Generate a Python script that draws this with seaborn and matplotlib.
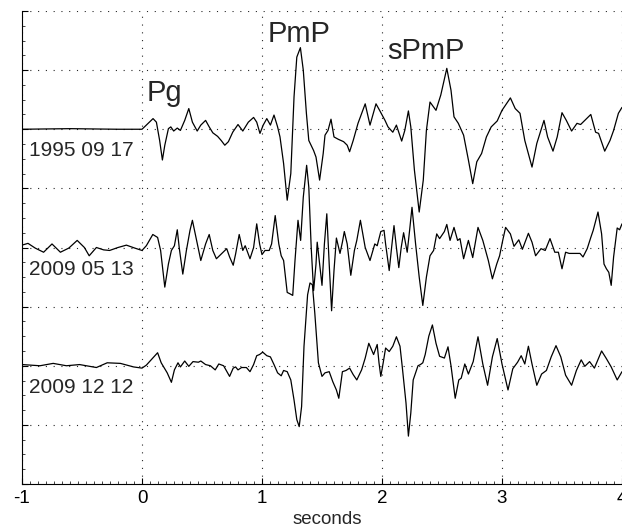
import pandas as pd
import matplotlib
matplotlib.use("Agg")
import matplotlib.pyplot as plt
from matplotlib.ticker import MultipleLocator
import seaborn as sns

# --- traces (time in s, amplitude in grid units) ---
t_1995 = [-1.0, -0.6, -0.2, 0.0, 0.036, 0.092, 0.12, 0.147, 0.17, 0.19, 0.22, 0.24, 0.264, 0.294,
          0.32, 0.356, 0.39, 0.42, 0.46, 0.49, 0.53, 0.56, 0.59, 0.63, 0.66, 0.69, 0.72, 0.756,
          0.80, 0.84, 0.886, 0.93, 0.956, 0.983, 1.01, 1.04, 1.07, 1.10, 1.13, 1.15, 1.18, 1.21,
          1.24, 1.267, 1.29, 1.32, 1.344, 1.37, 1.39, 1.43, 1.45, 1.48, 1.51, 1.525, 1.55, 1.575,
          1.60, 1.636, 1.68, 1.71, 1.73, 1.76, 1.80, 1.86, 1.90, 1.95, 1.98, 2.025, 2.05, 2.09,
          2.12, 2.164, 2.19, 2.22, 2.24, 2.27, 2.31, 2.344, 2.37, 2.40, 2.45, 2.49, 2.54, 2.575,
          2.60, 2.636, 2.68, 2.72, 2.756, 2.79, 2.83, 2.87, 2.91, 2.96, 3.0, 3.03, 3.07, 3.11,
          3.15, 3.19, 3.25, 3.29, 3.35, 3.38, 3.425, 3.46, 3.50, 3.536, 3.58, 3.625, 3.655, 3.69,
          3.74, 3.78, 3.805, 3.856, 3.90, 3.93, 3.97, 4.0]
a_1995 = [0.0, 0.01, 0.0, 0.0, 0.07, 0.18, 0.12, -0.19, -0.52, -0.27, 0.01, 0.04, -0.03, 0.02,
          -0.02, 0.15, 0.35, 0.12, -0.03, 0.07, 0.15, 0.04, -0.06, -0.12, -0.19, -0.27, -0.21, -0.05,
          0.08, -0.03, 0.12, 0.20, 0.12, -0.07, 0.07, 0.18, 0.07, 0.24, 0.04, -0.13, -0.58, -1.20,
          -0.75, 0.55, 1.22, 1.38, 1.0, 0.27, -0.19, -0.36, -0.47, -0.86, -0.41, -0.10, -0.02, 0.17,
          -0.13, -0.17, -0.21, -0.27, -0.38, -0.19, 0.10, 0.43, 0.07, 0.43, 0.32, 0.15, 0.04, -0.05,
          0.07, -0.20, -0.02, 0.31, 0.04, -0.69, -1.40, -0.86, -0.02, 0.46, 0.32, 0.58, 1.03, 0.66,
          0.21, 0.10, -0.10, -0.52, -0.92, -0.55, -0.41, -0.13, 0.04, 0.14, 0.32, 0.41, 0.53, 0.35,
          0.27, -0.19, -0.64, -0.24, 0.15, -0.13, -0.37, -0.13, 0.28, 0.15, -0.03, 0.10, 0.08, 0.15,
          0.25, -0.05, -0.07, -0.37, -0.19, -0.02, 0.27, 0.37]

t_2009a = [-1.0, -0.95, -0.89, -0.82, -0.75, -0.68, -0.61, -0.54, -0.48, -0.44, -0.38, -0.32, -0.27,
           -0.20, -0.13, -0.06, 0.0, 0.036, 0.09, 0.13, 0.155, 0.19, 0.22, 0.245, 0.27, 0.294, 0.31,
           0.34, 0.37, 0.40, 0.42, 0.45, 0.49, 0.53, 0.56, 0.59, 0.62, 0.66, 0.706, 0.73, 0.76, 0.78,
           0.81, 0.84, 0.86, 0.90, 0.93, 0.956, 0.98, 1.0, 1.025, 1.06, 1.08, 1.11, 1.14, 1.16, 1.18,
           1.21, 1.23, 1.256, 1.275, 1.30, 1.322, 1.344, 1.372, 1.39, 1.41, 1.43, 1.45, 1.46, 1.48,
           1.50, 1.52, 1.54, 1.56, 1.58, 1.60, 1.62, 1.65, 1.67, 1.686, 1.71, 1.74, 1.77, 1.79, 1.82,
           1.86, 1.90, 1.94, 1.96, 1.99, 2.017, 2.03, 2.06, 2.08, 2.10, 2.12, 2.14, 2.16, 2.18, 2.21,
           2.23, 2.25, 2.28, 2.31, 2.34, 2.37, 2.40, 2.43, 2.456, 2.48, 2.52, 2.54, 2.567, 2.60, 2.63,
           2.65, 2.68, 2.72, 2.756, 2.80, 2.84, 2.886, 2.92, 2.956, 2.98, 3.006, 3.03, 3.07, 3.10,
           3.14, 3.17, 3.22, 3.25, 3.28, 3.325, 3.36, 3.40, 3.44, 3.47, 3.50, 3.53, 3.56, 3.61, 3.65,
           3.675, 3.71, 3.74, 3.76, 3.80, 3.83, 3.85, 3.87, 3.89, 3.91, 3.93, 3.96, 3.98, 4.0]
a_2009a = [0.04, 0.07, -0.01, -0.08, 0.06, -0.08, -0.01, 0.12, 0.0, -0.14, 0.0, -0.04, -0.05,
           0.0, 0.04, -0.01, -0.05, 0.03, 0.22, 0.17, -0.05, -0.67, -0.28, -0.05, 0.03, 0.30, 0.0,
           -0.45, -0.05, 0.29, 0.46, 0.17, -0.22, 0.06, 0.22, -0.05, -0.19, -0.11, -0.02, -0.16, -0.30, -0.11,
           0.22, -0.05, 0.03, -0.19, 0.0, 0.40, 0.06, -0.12, -0.05, -0.05, 0.06, 0.54, 0.06, -0.14, -0.22,
           -0.76, -0.78, -0.81, -0.22, 0.46, 0.12, 0.85, 1.39, 1.02, 0.0, -0.73, -0.28, 0.09, -0.28,
           -0.64, 0.06, 0.57, -0.28, -1.07, -0.39, 0.16, -0.10, 0.09, 0.27, 0.06, -0.47, -0.05, 0.12, 0.46,
           0.0, -0.22, 0.06, 0.03, 0.27, 0.29, 0.06, -0.39, 0.0, 0.37, 0.0, -0.34, 0.0, 0.25, -0.08,
           0.29, 0.68, 0.06, -0.50, -0.98, -0.50, -0.14, -0.05, 0.23, 0.15, 0.27, 0.39, 0.12, 0.34, 0.12,
           0.15, -0.19, 0.12, -0.17, 0.34, 0.12, -0.22, -0.53, -0.28, -0.14, 0.12, 0.34, 0.23, 0.02,
           0.13, -0.03, 0.24, 0.09, -0.14, -0.02, -0.05, 0.15, -0.08, -0.08, -0.36, -0.08, -0.10, -0.10, -0.10,
           -0.16, -0.02, 0.17, 0.29, 0.60, 0.23, -0.28, -0.36, -0.42, -0.64, -0.16, 0.33, 0.30, 0.40]

t_2009b = [-1.0, -0.85, -0.74, -0.63, -0.52, -0.38, -0.29, -0.18, -0.07, 0.0, 0.036, 0.09, 0.13,
           0.16, 0.21, 0.245, 0.27, 0.30, 0.32, 0.356, 0.39, 0.425, 0.47, 0.49, 0.53, 0.57, 0.61,
           0.64, 0.68, 0.73, 0.76, 0.78, 0.80, 0.83, 0.87, 0.90, 0.93, 0.956, 0.98, 1.006, 1.04,
           1.07, 1.10, 1.13, 1.16, 1.18, 1.21, 1.24, 1.267, 1.29, 1.31, 1.33, 1.35, 1.38, 1.40, 1.42,
           1.44, 1.47, 1.50, 1.525, 1.56, 1.59, 1.62, 1.64, 1.67, 1.70, 1.73, 1.76, 1.79, 1.83, 1.86,
           1.89, 1.93, 1.96, 1.975, 1.99, 2.01, 2.03, 2.06, 2.09, 2.12, 2.15, 2.17, 2.20, 2.22, 2.24,
           2.26, 2.28, 2.30, 2.32, 2.34, 2.36, 2.39, 2.42, 2.45, 2.48, 2.52, 2.55, 2.575, 2.61, 2.64,
           2.66, 2.69, 2.72, 2.76, 2.80, 2.84, 2.88, 2.92, 2.96, 3.0, 3.05, 3.09, 3.13, 3.16, 3.19,
           3.22, 3.25, 3.29, 3.33, 3.37, 3.41, 3.45, 3.49, 3.53, 3.58, 3.62, 3.66, 3.69, 3.73, 3.77,
           3.83, 3.87, 3.91, 3.96, 4.0]
a_2009b = [0.02, 0.0, 0.04, 0.0, 0.02, -0.03, 0.05, 0.04, -0.02, -0.04, 0.01, 0.13, 0.22,
           0.05, -0.12, -0.28, -0.07, 0.05, -0.02, 0.08, -0.01, 0.07, 0.06, 0.08, 0.02, 0.0, -0.07,
           0.03, 0.0, -0.18, -0.04, -0.02, -0.07, -0.03, -0.03, -0.10, 0.02, 0.17, 0.19, 0.23, 0.17,
           0.15, 0.02, -0.12, -0.17, -0.08, -0.10, -0.24, -0.58, -0.91, -1.03, -0.69, 0.33, 1.20, 1.40, 1.37,
           0.89, 0.05, -0.18, -0.12, -0.10, -0.27, -0.41, -0.55, -0.10, -0.08, -0.04, -0.15, -0.24, -0.07, 0.13,
           0.38, 0.19, 0.36, 0.05, -0.18, 0.05, 0.30, 0.24, 0.33, 0.49, 0.33, -0.04, -0.63, -1.19, -0.80,
           -0.24, -0.12, 0.0, 0.02, 0.05, 0.19, 0.50, 0.69, 0.38, 0.16, 0.13, 0.32, 0.0, -0.55, -0.24,
           -0.21, 0.03, -0.14, 0.07, 0.49, 0.03, -0.33, 0.15, 0.46, 0.03, -0.41, -0.05, 0.06, 0.17, 0.03,
           0.33, 0.03, -0.33, -0.14, -0.08, 0.15, 0.34, 0.15, -0.16, -0.33, -0.08, 0.10, -0.01, 0.07, -0.04,
           0.25, 0.12, -0.02, -0.24, -0.10]

events = ["1995 09 17", "2009 05 13", "2009 12 12"]
offsets = [6, 4, 2]
phases = ["Pg", "PmP", "sPmP"]
phase_t = [0.04, 1.05, 2.04]
phase_y = [6.47, 7.48, 7.19]
xticks = [-1, 0, 1, 2, 3, 4]

traces = [(t_1995, a_1995), (t_2009a, a_2009a), (t_2009b, a_2009b)]
frames = []
for name, off, (t, a) in zip(events, offsets, traces):
    frames.append(pd.DataFrame({"t": t, "y": [v + off for v in a], "event": name}))
df = pd.concat(frames, ignore_index=True)

sns.set_style("white")
plt.rcParams["font.family"] = ["Liberation Sans", "DejaVu Sans"]
plt.rcParams["axes.unicode_minus"] = False

fig = plt.figure(figsize=(6.22, 5.28), dpi=100)
ax = fig.add_axes([22 / 622, 44 / 528, 600 / 622, 473 / 528])

for name in events:
    sub = df[df["event"] == name]
    sns.lineplot(data=sub, x="t", y="y", sort=False, estimator=None,
                 color="black", linewidth=0.9, solid_joinstyle="round", ax=ax)

for name, off in zip(events, offsets):
    ax.text(-0.945, off - 0.46, name, fontsize=15, va="baseline", ha="left")

for lab, tx, ty in zip(phases, phase_t, phase_y):
    ax.text(tx, ty, lab, fontsize=21, va="baseline", ha="left")

ax.set_xlim(-1, 4)
ax.set_ylim(0, 8)
ax.set_xticks(xticks)
ax.set_xticklabels([str(v) for v in xticks])
ax.set_yticks(range(0, 9))
ax.set_yticklabels([])
ax.xaxis.set_minor_locator(MultipleLocator(1 / 15))
ax.yaxis.set_minor_locator(MultipleLocator(0.25))
ax.tick_params(which="major", direction="in", length=4, width=0.8, labelsize=13.5,
               pad=4.5, colors="black", left=True, bottom=True)
ax.tick_params(which="minor", direction="in", length=2, width=0.6, left=True, bottom=True)
ax.grid(True, which="major", color="0.15", linestyle=(0, (1, 6)), linewidth=0.8)

for side in ["top", "right"]:
    ax.spines[side].set_visible(False)
for side in ["left", "bottom"]:
    ax.spines[side].set_color("black")
    ax.spines[side].set_linewidth(0.8)

ax.set_xlabel("seconds", fontsize=13.5, labelpad=0)
ax.xaxis.set_label_coords(0.508, -0.057, transform=ax.transAxes)
ax.xaxis.label.set_va("top")
ax.set_ylabel("")

fig.savefig("out.png", dpi=100)
